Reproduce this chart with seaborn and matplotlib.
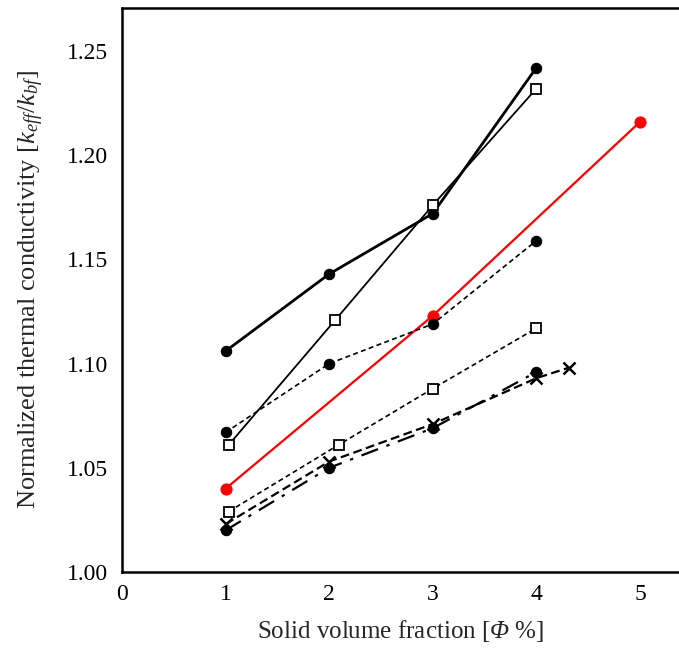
import matplotlib
matplotlib.use("Agg")
import matplotlib.pyplot as plt
import seaborn as sns
import pandas as pd

sns.set_style("white")
plt.rcParams["font.family"] = ["Liberation Serif", "DejaVu Serif"]
plt.rcParams["mathtext.fontset"] = "custom"
plt.rcParams["mathtext.rm"] = "Liberation Serif"
plt.rcParams["mathtext.it"] = "Liberation Serif:italic"
plt.rcParams["mathtext.sf"] = "Liberation Serif:italic"

# Data
a_x = [1, 2, 3, 4]
a_y = [1.106, 1.143, 1.172, 1.242]
b_x = [1.03, 2.06, 3.0, 4.0]
b_y = [1.061, 1.121, 1.176, 1.232]
red_x = [1, 3, 5]
red_y = [1.040, 1.123, 1.216]
d_x = [1, 2, 3, 4]
d_y = [1.067, 1.100, 1.119, 1.159]
e_x = [1.03, 2.09, 3.0, 4.0]
e_y = [1.029, 1.061, 1.088, 1.117]
f_x = [1, 2, 3, 4, 4.31]
f_y = [1.023, 1.053, 1.071, 1.093, 1.098]
g_x = [1, 2, 3, 4]
g_y = [1.020, 1.050, 1.069, 1.096]

x_ticks = [0, 1, 2, 3, 4, 5]
y_ticks = [1.00, 1.05, 1.10, 1.15, 1.20, 1.25]

fig = plt.figure(figsize=(6.79, 6.52), dpi=100)
ax = fig.add_axes([122 / 679, 80 / 652, 557 / 679, 564 / 652])

def draw(xs, ys, **kw):
    df = pd.DataFrame({"x": xs, "y": ys})
    sns.lineplot(data=df, x="x", y="y", ax=ax, sort=False, estimator=None, **kw)

draw(a_x, a_y, color="black", lw=2.0, marker="o", markersize=7.5,
     markerfacecolor="black", markeredgecolor="black")
draw(b_x, b_y, color="black", lw=1.3, marker="s", markersize=7.5,
     markerfacecolor="white", markeredgecolor="black", markeredgewidth=1.3)
draw(red_x, red_y, color="#ff0000", lw=1.6, marker="o", markersize=8,
     markerfacecolor="#ff0000", markeredgecolor="#ff0000")
draw(d_x, d_y, color="black", lw=1.2, linestyle=(0, (3, 2)), marker="o", markersize=7.5,
     markerfacecolor="black", markeredgecolor="black")
draw(e_x, e_y, color="black", lw=1.2, linestyle=(0, (3, 2)), marker="s", markersize=7.5,
     markerfacecolor="white", markeredgecolor="black", markeredgewidth=1.3)
draw(g_x, g_y, color="black", lw=1.6, linestyle=(0, (8, 4, 1.5, 4)), marker="o", markersize=7.5,
     markerfacecolor="black", markeredgecolor="black")
draw(f_x, f_y, color="black", lw=1.6, linestyle=(0, (4, 2)), marker="x", markersize=9,
     markeredgecolor="black", markeredgewidth=1.8)

ax.set_xlim(0, 557 / 103.6)
ax.set_ylim(1.0, 1.0 + 564 / 2084)
ax.set_xticks(x_ticks)
ax.set_yticks(y_ticks)
ax.set_yticklabels([f"{v:.2f}" for v in y_ticks])
ax.tick_params(direction="in", length=6, width=1.5, labelsize=17, colors="black")
ax.tick_params(axis="y", pad=10)
ax.tick_params(axis="x", pad=9)
for side in ["left", "bottom", "top"]:
    ax.spines[side].set_linewidth(1.8)
    ax.spines[side].set_color("black")
ax.spines["right"].set_visible(False)
ax.set_xlabel(r"Solid volume fraction [$\mathsf{\Phi}$ %]", fontsize=18, labelpad=9)
ax.set_ylabel(r"Normalized thermal conductivity [$k_{eff}/k_{bf}$]", fontsize=19, labelpad=15)
ax.legend_ = None

fig.savefig("out.png", dpi=100)
